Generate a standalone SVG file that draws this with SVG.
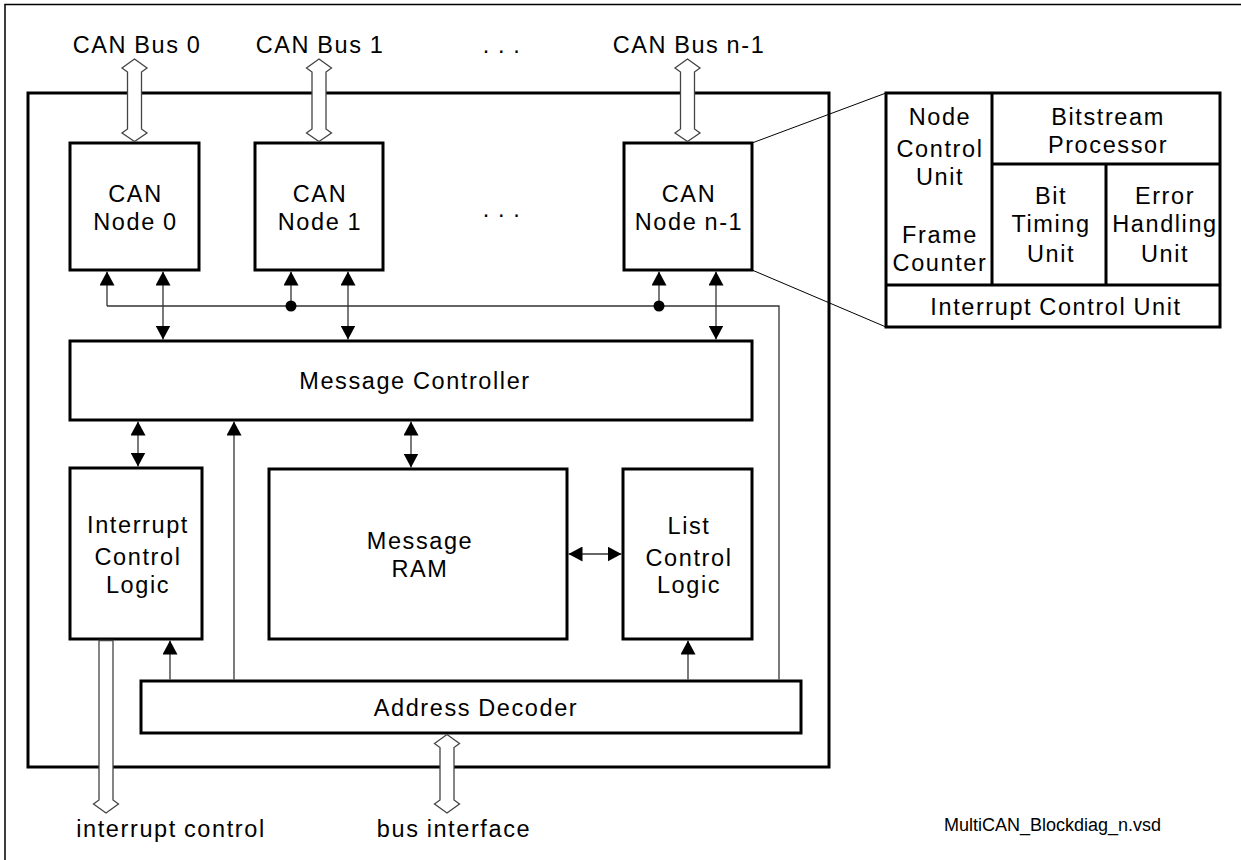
<svg xmlns="http://www.w3.org/2000/svg" width="1241" height="860" viewBox="0 0 1241 860">
<style>
.box{fill:#fff;stroke:#000;stroke-width:3}
.div{fill:none;stroke:#000;stroke-width:3}
.t{font-family:"Liberation Sans",Arial,sans-serif;font-size:23.5px;letter-spacing:1.6px;word-spacing:-1px;text-anchor:middle;fill:#000}
.fn{font-family:"Liberation Sans",Arial,sans-serif;font-size:18px;fill:#000}
.ln{stroke:#333;stroke-width:1.3;fill:none}
.bus{fill:#fff;stroke:#444;stroke-width:1.3}
.thin{stroke:#000;stroke-width:1;fill:none}
</style>
<defs>
<marker id="ah" markerUnits="userSpaceOnUse" markerWidth="14" markerHeight="15" refX="14" refY="7.5" orient="auto-start-reverse">
<path d="M0,0 L14,7.5 L0,15 Z" fill="#000"/>
</marker>
</defs>
<rect width="1241" height="860" fill="#fff"/>
<g id="page-border">
<path d="M5,860 V4.5 H1241" fill="none" stroke="#000" stroke-width="1.5"/>
</g>
<g id="multican-frame">
<rect class="box" x="28" y="93" width="801" height="674"/>
</g>
<g id="detail-zoom-lines">
<path class="thin" d="M752,143 L886,93 M752,270 L886,327"/>
</g>
<g id="can-node-0">
<rect class="box" x="70" y="143" width="129" height="127"/>
<text class="t" x="135.5" y="202">CAN</text>
<text class="t" x="135.5" y="230">Node 0</text>
</g>
<g id="can-node-1">
<rect class="box" x="255" y="143" width="128" height="127"/>
<text class="t" x="320" y="202">CAN</text>
<text class="t" x="320" y="230">Node 1</text>
</g>
<g id="can-node-n1">
<rect class="box" x="624" y="143" width="128" height="127"/>
<text class="t" x="689" y="202">CAN</text>
<text class="t" x="689" y="230">Node n-1</text>
</g>
<g id="dots">
<text class="t" x="502" y="53">. . .</text>
<text class="t" x="502" y="217">. . .</text>
</g>
<g id="message-controller">
<rect class="box" x="70" y="341" width="682" height="79"/>
<text class="t" x="415" y="389">Message Controller</text>
</g>
<g id="interrupt-control-logic">
<rect class="box" x="70" y="468" width="132" height="171"/>
<text class="t" x="138" y="533">Interrupt</text>
<text class="t" x="138" y="565">Control</text>
<text class="t" x="138" y="593">Logic</text>
</g>
<g id="message-ram">
<rect class="box" x="269" y="469" width="298" height="170"/>
<text class="t" x="420" y="549">Message</text>
<text class="t" x="420" y="577">RAM</text>
</g>
<g id="list-control-logic">
<rect class="box" x="623" y="469" width="129" height="170"/>
<text class="t" x="689" y="534">List</text>
<text class="t" x="689" y="566">Control</text>
<text class="t" x="689" y="593">Logic</text>
</g>
<g id="address-decoder">
<rect class="box" x="141" y="681" width="660" height="52"/>
<text class="t" x="476" y="716">Address Decoder</text>
</g>
<g id="can-node-detail">
<rect class="box" x="886" y="93" width="334" height="234"/>
<path class="div" d="M992,93 V285 M992,164 H1220 M1106,164 V285 M886,285 H1220"/>
<text class="t" x="940" y="125">Node</text>
<text class="t" x="940" y="157">Control</text>
<text class="t" x="940" y="185">Unit</text>
<text class="t" x="940" y="243">Frame</text>
<text class="t" x="940" y="271">Counter</text>
<text class="t" x="1108" y="125">Bitstream</text>
<text class="t" x="1108" y="153">Processor</text>
<text class="t" x="1051" y="204">Bit</text>
<text class="t" x="1051" y="232">Timing</text>
<text class="t" x="1051" y="262">Unit</text>
<text class="t" x="1165" y="204">Error</text>
<text class="t" x="1165" y="232">Handling</text>
<text class="t" x="1165" y="262">Unit</text>
<text class="t" x="1056" y="315">Interrupt Control Unit</text>
</g>
<g id="connectors">
<path class="ln" d="M107,306 H779 V679.5"/>
<line class="ln" x1="107" y1="306" x2="107" y2="271.5" marker-end="url(#ah)"/>
<line class="ln" x1="291" y1="306" x2="291" y2="271.5" marker-end="url(#ah)"/>
<line class="ln" x1="659" y1="306" x2="659" y2="271.5" marker-end="url(#ah)"/>
<circle cx="291" cy="306" r="5.5" fill="#000"/>
<circle cx="659" cy="306" r="5.5" fill="#000"/>
<line class="ln" x1="163" y1="271.5" x2="163" y2="339.5" marker-start="url(#ah)" marker-end="url(#ah)"/>
<line class="ln" x1="348" y1="271.5" x2="348" y2="339.5" marker-start="url(#ah)" marker-end="url(#ah)"/>
<line class="ln" x1="716" y1="271.5" x2="716" y2="339.5" marker-start="url(#ah)" marker-end="url(#ah)"/>
<line class="ln" x1="138" y1="421.5" x2="138" y2="466.5" marker-start="url(#ah)" marker-end="url(#ah)"/>
<line class="ln" x1="411" y1="421.5" x2="411" y2="467.5" marker-start="url(#ah)" marker-end="url(#ah)"/>
<line class="ln" x1="568.5" y1="554" x2="621.5" y2="554" marker-start="url(#ah)" marker-end="url(#ah)"/>
<line class="ln" x1="234" y1="679.5" x2="234" y2="421.5" marker-end="url(#ah)"/>
<line class="ln" x1="170" y1="679.5" x2="170" y2="640.5" marker-end="url(#ah)"/>
<line class="ln" x1="688" y1="679.5" x2="688" y2="640.5" marker-end="url(#ah)"/>
<path class="bus" d="M134.5,59 L147,68 L141.5,72 L141.5,129 L147,133 L134.5,141.5 L122,133 L127.5,129 L127.5,72 L122,68 Z"/>
<path class="bus" d="M319,59 L331.5,68 L326,72 L326,129 L331.5,133 L319,141.5 L306.5,133 L312,129 L312,72 L306.5,68 Z"/>
<path class="bus" d="M687.5,59 L700,68 L694.5,72 L694.5,129 L700,133 L687.5,141.5 L675,133 L680.5,129 L680.5,72 L675,68 Z"/>
<path class="bus" d="M447,734.5 L459.5,743.5 L454,747.5 L454,800 L459.5,804 L447,813 L434.5,804 L440,800 L440,747.5 L434.5,743.5 Z"/>
<path class="bus" d="M99,640.5 L113,640.5 L113,800 L118.5,804 L106,813 L93.5,804 L99,800 Z"/>
</g>
<g id="labels">
<text class="t" x="137" y="53">CAN Bus 0</text>
<text class="t" x="320" y="53">CAN Bus 1</text>
<text class="t" x="689" y="53">CAN Bus n-1</text>
<text class="t" x="171" y="837">interrupt control</text>
<text class="t" x="454" y="837">bus interface</text>
<text class="fn" x="944" y="831">MultiCAN_Blockdiag_n.vsd</text>
</g>
</svg>
